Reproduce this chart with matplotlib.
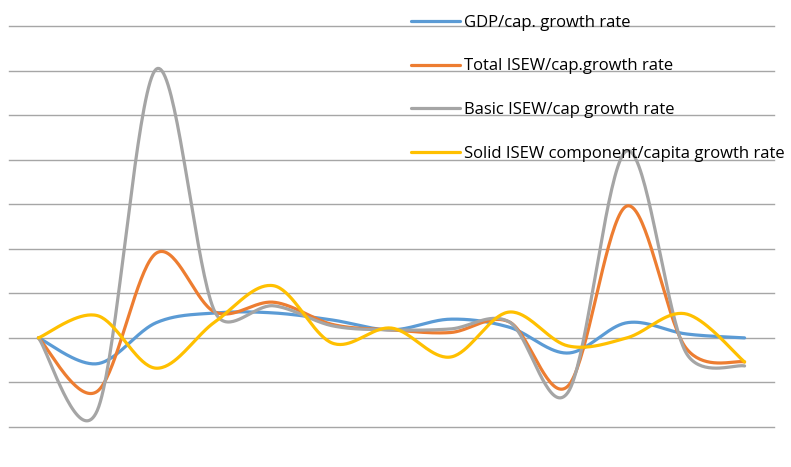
import numpy as np
import matplotlib
matplotlib.use("Agg")
import matplotlib.pyplot as plt

# values (one unit = one gridline step)
periods = list(range(13))
gdp_cap = [0.0, -0.58, 0.34, 0.56, 0.56, 0.40, 0.18, 0.42, 0.24, -0.34, 0.34, 0.09, 0.0]
total_isew = [0.0, -1.2, 1.9, 0.58, 0.80, 0.30, 0.18, 0.12, 0.36, -1.08, 2.96, -0.22, -0.54]
basic_isew = [0.0, -1.63, 6.03, 0.58, 0.72, 0.27, 0.18, 0.20, 0.36, -1.22, 4.2, -0.32, -0.63]
solid_isew = [0.0, 0.50, -0.68, 0.36, 1.17, -0.12, 0.22, -0.43, 0.58, -0.18, 0.0, 0.54, -0.54]

labels = ["GDP/cap. growth rate", "Total ISEW/cap.growth rate",
          "Basic ISEW/cap growth rate", "Solid ISEW component/capita growth rate"]
colors = ["#5B9BD5", "#ED7D31", "#A5A5A5", "#FFC000"]

XPX, YPX = 58.85, 44.55  # pixels per category / per gridline step


def smooth(x, y, n=40, f=1 / 6):
    # excel-style smoothed line: bezier segments, control vectors capped at half the segment
    P = np.column_stack([np.asarray(x, float), np.asarray(y, float)])
    P = np.vstack([P[0], P, P[-1]])
    S = np.array([XPX, YPX])
    dist = lambda a, b: np.hypot(*((b - a) * S))
    t = np.linspace(0, 1, n)[:, None]
    out = []
    for i in range(1, len(P) - 2):
        p0, p1, p2, p3 = P[i - 1], P[i], P[i + 1], P[i + 2]
        d12 = dist(p1, p2)
        d02 = dist(p0, p2)
        d13 = dist(p1, p3)
        f1 = f if d02 * f <= d12 / 2 else d12 / (2 * d02)
        f2 = f if d13 * f <= d12 / 2 else d12 / (2 * d13)
        c1 = p1 + f1 * (p2 - p0)
        c2 = p2 - f2 * (p3 - p1)
        b = (1 - t) ** 3 * p1 + 3 * (1 - t) ** 2 * t * c1 + 3 * (1 - t) * t ** 2 * c2 + t ** 3 * p2
        out.append(b)
    b = np.vstack(out)
    return b[:, 0], b[:, 1]


fig = plt.figure(figsize=(7.91, 4.67), dpi=100)
ax = fig.add_axes([9 / 791, 40 / 467, 765 / 791, 401 / 467])

for series, lab, col in zip([gdp_cap, total_isew, basic_isew, solid_isew], labels, colors):
    sx, sy = smooth(periods, series)
    ax.plot(sx, sy, color=col, lw=2.3, label=lab, solid_capstyle="round")

ax.set_xlim(-0.5, 12.5)
ax.set_ylim(-2, 7)
ax.set_yticks(range(-2, 8))
ax.yaxis.grid(True, color="#A6A6A6", lw=1.0)
ax.set_axisbelow(True)
ax.tick_params(left=False, bottom=False, labelleft=False, labelbottom=False)
for s in ax.spines.values():
    s.set_visible(False)
for gl in ax.get_ygridlines():
    gl.set_clip_on(False)

leg = ax.legend(loc="upper left", bbox_to_anchor=(402 / 765, 1.028), frameon=False,
                prop={"family": "Open Sans", "size": 12}, handlelength=2.94,
                handletextpad=0.24, labelspacing=1.66, borderpad=0, borderaxespad=0)

fig.savefig("out.png", dpi=100)
